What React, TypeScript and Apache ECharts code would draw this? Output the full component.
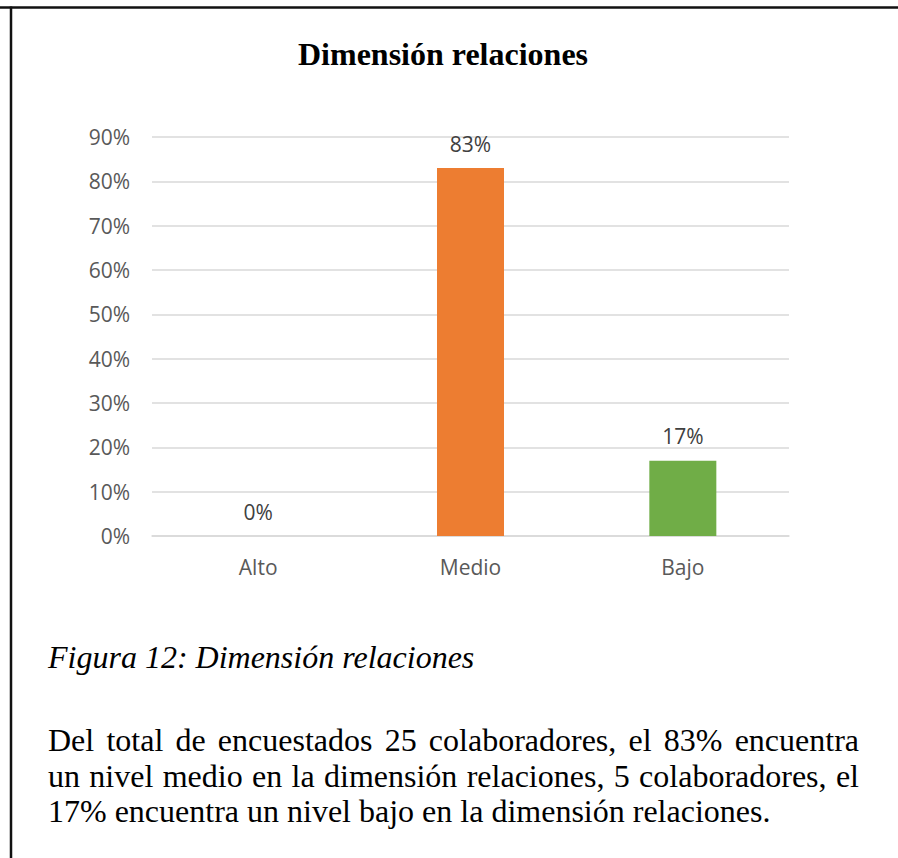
import React, { useEffect, useRef } from "react";
import * as echarts from "echarts";

// Chart content
const chartTitle = "Dimensión relaciones";
const categories = ["Alto", "Medio", "Bajo"];
const percentValues = [0, 83, 17];
const barColors = ["#4472C4", "#ED7D31", "#70AD47"];
const yAxisMax = 90;
const yAxisStep = 10;

// Caption and commentary below the chart
const figureCaption = "Figura 12: Dimensión relaciones";
const paragraphLines = [
  "Del total de encuestados 25 colaboradores, el 83% encuentra",
  "un nivel medio en la dimensión relaciones, 5 colaboradores, el",
  "17% encuentra un nivel bajo en la dimensión relaciones.",
];

const W = 898;
const H = 858;

export default function App() {
  const ref = useRef<HTMLDivElement>(null);

  useEffect(() => {
    if (!ref.current) return;
    const chart = echarts.init(ref.current, null, { renderer: "svg", width: W, height: H });
    chart.setOption({
      animation: false,
      backgroundColor: "#ffffff",
      title: {
        text: chartTitle,
        left: 443,
        top: 38,
        textAlign: "center",
        padding: 0,
        textStyle: {
          fontFamily: "Liberation Serif",
          fontSize: 32,
          fontWeight: "bold",
          color: "#000000",
          lineHeight: 32,
        },
      },
      grid: {
        left: 152,
        right: 109,
        top: 137,
        bottom: 322,
        outerBoundsMode: "none",
      },
      xAxis: {
        type: "category",
        data: categories,
        axisTick: { show: false },
        axisLine: { lineStyle: { color: "#D9D9D9", width: 1.5 } },
        axisLabel: {
          margin: 20,
          fontFamily: "Open Sans",
          fontSize: 21,
          color: "#595959",
        },
      },
      yAxis: {
        type: "value",
        min: 0,
        max: yAxisMax,
        interval: yAxisStep,
        axisLine: { show: false },
        axisTick: { show: false },
        splitLine: { lineStyle: { color: "#D9D9D9", width: 1.5 } },
        axisLabel: {
          margin: 22,
          formatter: "{value}%",
          fontFamily: "Open Sans",
          fontSize: 21,
          color: "#595959",
        },
      },
      series: [
        {
          type: "bar",
          barWidth: 67,
          data: percentValues.map((v, i) => ({
            value: v,
            itemStyle: { color: barColors[i] },
          })),
          label: {
            show: true,
            position: "top",
            distance: 14,
            formatter: "{c}%",
            fontFamily: "Open Sans",
            fontSize: 21,
            color: "#404040",
          },
        },
      ],
      graphic: [
        {
          type: "line",
          shape: { x1: 0, y1: 7.5, x2: W, y2: 7.5 },
          style: { stroke: "#111111", lineWidth: 2.5 },
        },
        {
          type: "line",
          shape: { x1: 11, y1: 6.5, x2: 11, y2: H },
          style: { stroke: "#111111", lineWidth: 2.5 },
        },
        {
          type: "text",
          x: 48,
          y: 657,
          style: {
            text: figureCaption,
            fontFamily: "Liberation Serif",
            fontStyle: "italic",
            fontSize: 32,
            fill: "#000000",
            verticalAlign: "middle",
            align: "left",
          },
        },
      ],
    });
    return () => chart.dispose();
  }, []);

  return (
    <div
      style={{
        position: "fixed",
        left: 0,
        top: 0,
        width: W,
        height: H,
        background: "#ffffff",
        overflow: "hidden",
      }}
    >
      <div ref={ref} style={{ position: "absolute", left: 0, top: 0, width: W, height: H }} />
      <div
        style={{
          position: "absolute",
          left: 48,
          top: 723,
          width: 811,
          fontFamily: "'Liberation Serif', serif",
          fontSize: 32,
          lineHeight: "35.5px",
          color: "#000000",
        }}
      >
        {paragraphLines.map((line, i) => (
          <div
            key={i}
            style={{
              whiteSpace: "nowrap",
              textAlign: i < paragraphLines.length - 1 ? "justify" : "left",
              textAlignLast: i < paragraphLines.length - 1 ? "justify" : "left",
            }}
          >
            {line}
          </div>
        ))}
      </div>
    </div>
  );
}
